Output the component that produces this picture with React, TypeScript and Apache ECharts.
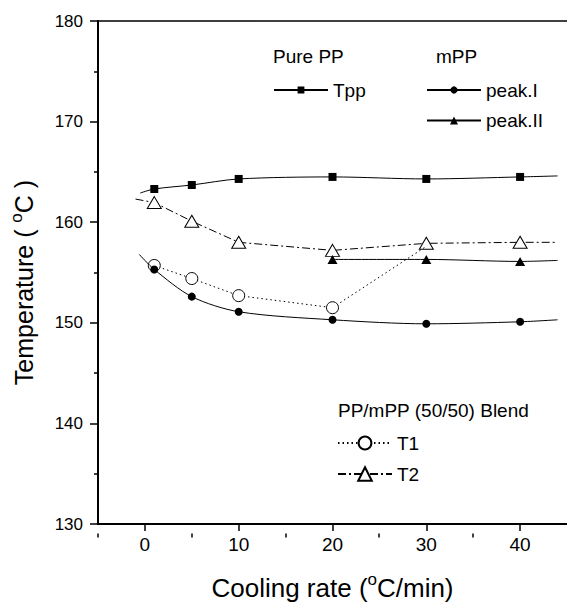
import React, { useEffect, useRef } from 'react';
import * as echarts from 'echarts';

// Cooling rate (°C/min) of measured points
const coolingRates = [1, 5, 10, 20, 30, 40];
// Pure PP
const tppValues = [163.3, 163.7, 164.3, 164.5, 164.3, 164.5];
// mPP
const peak1Values = [155.3, 152.6, 151.1, 150.3, 149.9, 150.1];
const peak2Rates = [20, 30, 40];
const peak2Values = [156.3, 156.3, 156.1];
// PP/mPP (50/50) blend
const t1Rates = [1, 5, 10, 20, 30];
const t1Values = [155.7, 154.4, 152.7, 151.5, 157.6];
const t1RatesWithoutMarker = [30];
const t2Values = [161.95, 160.1, 158.0, 157.2, 157.9, 158.0];

// ends of the fitted curves, drawn without markers: [rate, temperature]
const tppCurveEnds: (number[] | null)[] = [[-0.5, 162.9], [44, 164.6]];
const peak1CurveEnds: (number[] | null)[] = [[-0.6, 156.8], [44, 150.3]];
const peak2CurveEnds: (number[] | null)[] = [null, [44, 156.2]];
const t1CurveEnds: (number[] | null)[] = [null, null];
const t2CurveEnds: (number[] | null)[] = [[-1.0, 162.3], [44, 158.0]];

const xMajorTicks = [0, 10, 20, 30, 40];
const xMinorTicks = [-5, 5, 15, 25, 35];

const FONT = "'Liberation Sans', Arial, Helvetica, sans-serif";

function buildData(xs: number[], ys: number[], ends: (number[] | null)[], hidden: number[] = []) {
  const out: any[] = [];
  if (ends[0]) out.push({ value: ends[0], symbol: 'none' });
  xs.forEach((x, i) => {
    if (hidden.includes(x)) out.push({ value: [x, ys[i]], symbol: 'none' });
    else out.push([x, ys[i]]);
  });
  if (ends[1]) out.push({ value: ends[1], symbol: 'none' });
  return out;
}

export default function App() {
  const ref = useRef<HTMLDivElement>(null);
  useEffect(() => {
    if (!ref.current) return;
    const chart = echarts.init(ref.current, undefined, { renderer: 'svg' });
    const gridLayout = { left: 97.5, right: 0, top: 21, bottom: 76.5 };
    const black = '#000';
    const legendBase = {
      orient: 'vertical',
      padding: 0,
      itemWidth: 54,
      selectedMode: false,
      textStyle: { fontSize: 19, lineHeight: 20, color: black, fontFamily: FONT },
    };
    const option: any = {
      animation: false,
      backgroundColor: '#fff',
      textStyle: { fontFamily: FONT },
      grid: [
        { ...gridLayout, containLabel: false },
        { ...gridLayout, containLabel: false },
      ],
      xAxis: [
        {
          type: 'value',
          gridIndex: 0,
          min: -5,
          max: 45,
          position: 'bottom',
          name: 'Cooling rate ({sup|o}C/min)',
          nameLocation: 'middle',
          nameGap: 47,
          nameTextStyle: {
            fontSize: 26,
            lineHeight: 34,
            color: black,
            fontFamily: FONT,
            rich: {
              sup: { fontSize: 17, lineHeight: 17, verticalAlign: 'top', color: black, fontFamily: FONT },
            },
          },
          axisLine: { show: true, onZero: false, lineStyle: { color: black, width: 2 } },
          axisTick: { show: true, customValues: xMajorTicks, length: 7, lineStyle: { color: black, width: 1.5 } },
          axisLabel: { customValues: xMajorTicks, fontSize: 19, margin: 11, color: black, fontFamily: FONT },
          splitLine: { show: false },
        },
        {
          type: 'value',
          gridIndex: 1,
          min: -5,
          max: 45,
          position: 'bottom',
          axisLine: { show: false, onZero: false },
          axisTick: { show: true, customValues: xMinorTicks, length: 4, lineStyle: { color: black, width: 1.5 } },
          axisLabel: { show: false },
          splitLine: { show: false },
        },
        {
          type: 'value',
          gridIndex: 0,
          min: -5,
          max: 45,
          position: 'top',
          axisLine: { show: true, onZero: false, lineStyle: { color: black, width: 1.5 } },
          axisTick: { show: false },
          axisLabel: { show: false },
          splitLine: { show: false },
        },
      ],
      yAxis: [
        {
          type: 'value',
          gridIndex: 0,
          min: 130,
          max: 180,
          interval: 10,
          position: 'left',
          name: 'Temperature ( {sup|o}C )',
          nameLocation: 'middle',
          nameGap: 58,
          nameTextStyle: {
            fontSize: 25,
            lineHeight: 32,
            color: black,
            fontFamily: FONT,
            padding: [0, 20, 0, 0],
            rich: {
              sup: { fontSize: 17, lineHeight: 17, verticalAlign: 'top', color: black, fontFamily: FONT },
            },
          },
          axisLine: { show: true, onZero: false, lineStyle: { color: black, width: 2 } },
          axisTick: { show: true, length: 8, lineStyle: { color: black, width: 1.5 } },
          minorTick: { show: true, splitNumber: 2, length: 4, lineStyle: { color: black, width: 1.5 } },
          axisLabel: { fontSize: 17, margin: 15, color: black, fontFamily: FONT },
          splitLine: { show: false },
          minorSplitLine: { show: false },
        },
        {
          type: 'value',
          gridIndex: 1,
          min: 130,
          max: 180,
          show: false,
        },
      ],
      legend: [
        { ...legendBase, data: ['Tpp'], left: 273, top: 80, itemHeight: 8.5 },
        { ...legendBase, data: ['peak.I'], left: 426, top: 80, itemHeight: 9 },
        { ...legendBase, data: ['peak.II'], left: 426, top: 110.5, itemHeight: 10 },
        { ...legendBase, data: ['T1'], left: 337, top: 433, itemHeight: 16 },
        { ...legendBase, data: ['T2'], left: 337, top: 464, itemHeight: 17 },
      ],
      graphic: [
        { type: 'text', x: 273, y: 56.5, style: { text: 'Pure PP', fontSize: 19, fontFamily: FONT, fill: black, verticalAlign: 'middle' } },
        { type: 'text', x: 436, y: 56.5, style: { text: 'mPP', fontSize: 19, fontFamily: FONT, fill: black, verticalAlign: 'middle' } },
        { type: 'text', x: 338, y: 410.5, style: { text: 'PP/mPP (50/50) Blend', fontSize: 19, fontFamily: FONT, fill: black, verticalAlign: 'middle' } },
      ],
      series: [
        {
          name: 'T2',
          type: 'line',
          xAxisIndex: 0,
          yAxisIndex: 0,
          data: buildData(coolingRates, t2Values, t2CurveEnds),
          symbol: 'triangle',
          symbolSize: [14, 12],
          itemStyle: { color: '#fff', borderColor: black, borderWidth: 1 },
          lineStyle: { color: black, width: 1, type: [8, 3, 2, 3] },
          z: 2,
        },
        {
          name: 'T1',
          type: 'line',
          xAxisIndex: 0,
          yAxisIndex: 0,
          data: buildData(t1Rates, t1Values, t1CurveEnds, t1RatesWithoutMarker),
          symbol: 'circle',
          symbolSize: 12,
          itemStyle: { color: '#fff', borderColor: black, borderWidth: 1 },
          lineStyle: { color: black, width: 1, type: [1.5, 3] },
          z: 3,
        },
        {
          name: 'Tpp',
          type: 'line',
          xAxisIndex: 0,
          yAxisIndex: 0,
          data: buildData(coolingRates, tppValues, tppCurveEnds),
          smooth: 0.3,
          symbol: 'rect',
          symbolSize: 8,
          itemStyle: { color: black },
          lineStyle: { color: black, width: 1 },
          z: 4,
        },
        {
          name: 'peak.I',
          type: 'line',
          xAxisIndex: 0,
          yAxisIndex: 0,
          data: buildData(coolingRates, peak1Values, peak1CurveEnds),
          smooth: 0.3,
          symbol: 'circle',
          symbolSize: 8,
          itemStyle: { color: black },
          lineStyle: { color: black, width: 1 },
          z: 4,
        },
        {
          name: 'peak.II',
          type: 'line',
          xAxisIndex: 0,
          yAxisIndex: 0,
          data: buildData(peak2Rates, peak2Values, peak2CurveEnds),
          smooth: 0.3,
          symbol: 'triangle',
          symbolSize: [10, 9],
          itemStyle: { color: black },
          lineStyle: { color: black, width: 1 },
          z: 4,
        },
      ],
    };
    chart.setOption(option);
    return () => chart.dispose();
  }, []);
  return (
    <div
      ref={ref}
      style={{ position: 'fixed', left: 0, top: 0, width: 567, height: 610, background: '#fff' }}
    />
  );
}
